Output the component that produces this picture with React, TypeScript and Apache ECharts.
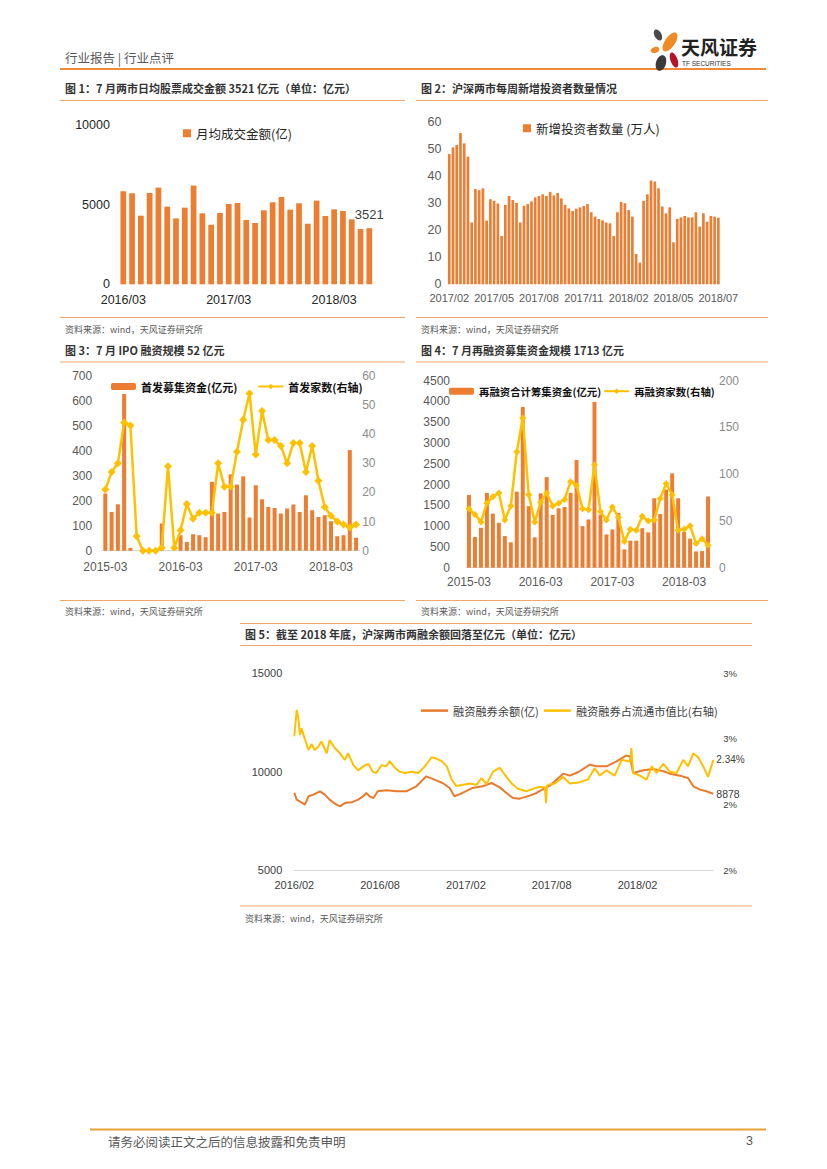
import React, { useEffect, useRef } from 'react';
import * as echarts from 'echarts';

const FONT = "'Liberation Sans', 'Noto Sans CJK SC', sans-serif";
const CJK = "'Noto Sans CJK SC', 'Liberation Sans', sans-serif";
const ORANGE = '#ED7D31';
const YELLOW = '#FFC000';
const RULE = '#F2A66A';

// ---------- Chart 1: monthly average turnover (2016/03 - 2018/07) ----------
const turnoverStart: [number, number] = [2016, 3];
const turnoverValues = [5840, 5714, 4307, 5735, 6071, 4874, 4139, 4811, 6197, 4454, 3739, 4475, 5042, 5105, 4034, 3845, 4643, 5147, 5483, 4685, 5084, 3803, 5252, 4286, 4706, 4601, 4076, 3466, 3521];

// ---------- Chart 2: weekly new investors (2017/02 - 2018/07) ----------
const investorTicks = ['2017/02', '2017/05', '2017/08', '2017/11', '2018/02', '2018/05', '2018/07'];
const newInvestors = [48.1, 50.5, 51.4, 55.8, 52, 47.1, 22.8, 35.2, 34.7, 35.4, 23.5, 31.4, 30.8, 29.8, 17.8, 29.3, 32.6, 31.1, 30, 22.8, 29, 29.6, 30.6, 32.1, 32.6, 33.2, 32.6, 34.1, 32.8, 33.7, 31.7, 29.3, 28, 27.1, 27.9, 28.4, 28.9, 29.6, 26.6, 25, 24.1, 23.6, 22.8, 22.5, 17.8, 26.6, 30.4, 29.9, 27.4, 25, 11.2, 8, 30.8, 33.2, 38.3, 37.9, 35.4, 28.7, 26.2, 28.4, 15.5, 24.1, 24.7, 25.2, 24.7, 24.7, 26.6, 21.3, 26.2, 23.1, 25.2, 25, 24.6];

// ---------- Chart 3 & 4: monthly (2015-03 - 2018-07) ----------
const monthlyStart: [number, number] = [2015, 3];
const ipoAmount = [229, 155, 186, 628, 11, 0, 0, 0, 0, 109, 0, 0, 62, 35, 66, 62, 54, 276, 149, 155, 306, 265, 298, 133, 262, 206, 175, 171, 149, 169, 185, 155, 222, 162, 135, 142, 118, 58, 62, 403, 52];
const ipoCount = [21, 27, 30, 44, 43, 5, 0, 0, 0, 1, 29, 1, 7, 16, 11, 13, 13, 13, 30, 22, 22, 34, 45, 54, 33, 48, 38, 38, 36, 30, 37, 37, 27, 36, 24, 15, 12, 10, 9, 8, 9];
const refiAmount = [1750, 740, 960, 1800, 1300, 1080, 760, 610, 1830, 3870, 1480, 730, 1790, 2180, 1270, 1430, 1460, 1800, 2590, 1000, 1160, 3990, 1270, 800, 920, 1320, 440, 650, 650, 950, 850, 1670, 1290, 1880, 2270, 1670, 860, 700, 390, 400, 1713];
const refiCount = [63, 57, 49, 69, 76, 80, 51, 66, 124, 160, 78, 49, 70, 80, 66, 69, 73, 92, 88, 63, 62, 110, 60, 51, 65, 54, 28, 41, 40, 55, 50, 51, 74, 90, 78, 40, 41, 45, 26, 31, 24];

// ---------- Chart 5: margin balance & ratio ----------
const marginDates = ['2016-02-01', '2016-02-06', '2016-02-16', '2016-02-23', '2016-03-01', '2016-03-11', '2016-03-25', '2016-04-05', '2016-04-15', '2016-04-26', '2016-05-07', '2016-05-17', '2016-06-01', '2016-06-15', '2016-06-25', '2016-07-02', '2016-07-09', '2016-07-17', '2016-07-26', '2016-08-14', '2016-09-05', '2016-09-26', '2016-10-17', '2016-11-08', '2016-11-29', '2016-12-12', '2016-12-27', '2017-01-07', '2017-01-24', '2017-02-15', '2017-03-06', '2017-03-25', '2017-04-12', '2017-04-26', '2017-05-10', '2017-05-24', '2017-06-15', '2017-06-29', '2017-07-27', '2017-08-25', '2017-09-09', '2017-09-27', '2017-10-21', '2017-11-05', '2017-11-26', '2017-12-17', '2018-01-07', '2018-01-15', '2018-01-22', '2018-02-13', '2018-03-04', '2018-03-25', '2018-04-09', '2018-04-30', '2018-05-17', '2018-05-28', '2018-06-12', '2018-06-26', '2018-07-10'];
const marginBalance = [8917, 8577, 8440, 8322, 8746, 8830, 9000, 8830, 8577, 8373, 8237, 8407, 8440, 8577, 8746, 8917, 8746, 8660, 9000, 9050, 9000, 9000, 9254, 9762, 9559, 9423, 9170, 8746, 8917, 9170, 9254, 9423, 9200, 8917, 8660, 8627, 8780, 8917, 9288, 9898, 9796, 9983, 10356, 10271, 10271, 10525, 10814, 10780, 9932, 10068, 10136, 10017, 9898, 9796, 9678, 9254, 9085, 9000, 8878];
const ratioDates = ['2016-02-01', '2016-02-06', '2016-02-09', '2016-02-13', '2016-02-16', '2016-02-23', '2016-03-01', '2016-03-07', '2016-03-14', '2016-03-21', '2016-03-28', '2016-04-09', '2016-04-15', '2016-04-26', '2016-05-07', '2016-05-17', '2016-05-24', '2016-06-05', '2016-06-15', '2016-06-26', '2016-07-06', '2016-07-16', '2016-07-23', '2016-08-04', '2016-08-14', '2016-08-21', '2016-09-02', '2016-09-12', '2016-09-23', '2016-10-07', '2016-10-21', '2016-11-05', '2016-11-19', '2016-11-29', '2016-12-10', '2016-12-21', '2017-01-01', '2017-01-11', '2017-01-25', '2017-02-09', '2017-02-23', '2017-03-04', '2017-03-14', '2017-03-28', '2017-04-12', '2017-04-26', '2017-05-07', '2017-05-20', '2017-06-08', '2017-06-22', '2017-07-06', '2017-07-17', '2017-07-19', '2017-07-21', '2017-07-24', '2017-08-08', '2017-08-25', '2017-09-09', '2017-09-30', '2017-10-17', '2017-11-01', '2017-11-12', '2017-11-26', '2017-12-13', '2017-12-28', '2018-01-11', '2018-01-16', '2018-01-18', '2018-01-22', '2018-02-06', '2018-02-20', '2018-03-01', '2018-03-11', '2018-03-25', '2018-04-09', '2018-04-23', '2018-05-07', '2018-05-17', '2018-05-28', '2018-06-08', '2018-06-19', '2018-06-29', '2018-07-10'];
const ratioValues = [2.52, 2.72, 2.67, 2.53, 2.58, 2.5, 2.415, 2.46, 2.415, 2.44, 2.48, 2.39, 2.49, 2.43, 2.39, 2.34, 2.39, 2.3, 2.26, 2.29, 2.31, 2.25, 2.24, 2.3, 2.29, 2.33, 2.28, 2.25, 2.24, 2.25, 2.24, 2.29, 2.36, 2.35, 2.33, 2.29, 2.19, 2.14, 2.15, 2.16, 2.15, 2.2, 2.155, 2.25, 2.28, 2.21, 2.16, 2.12, 2.1, 2.12, 2.135, 2.13, 2.01, 2.14, 2.15, 2.16, 2.21, 2.16, 2.17, 2.19, 2.275, 2.22, 2.26, 2.22, 2.34, 2.33, 2.33, 2.43, 2.24, 2.22, 2.19, 2.29, 2.24, 2.31, 2.25, 2.24, 2.34, 2.29, 2.39, 2.36, 2.29, 2.21, 2.34];

function monthLabels(start: [number, number], n: number, sep: string): string[] {
  const out: string[] = [];
  for (let i = 0; i < n; i++) {
    const t = start[0] * 12 + (start[1] - 1) + i;
    const y = Math.floor(t / 12);
    const m = (t % 12) + 1;
    out.push(`${y}${sep}${m < 10 ? '0' + m : m}`);
  }
  return out;
}
const monthOffset = (d: string) => {
  const [y, m, day] = d.split('-').map(Number);
  return (y - 2016) * 12 + (m - 2) + (day - 1) / 30;
};
const plain = (v: number) => String(v);

const txt = (x: number, y: number, text: string, size: number, color: string, weight: string = 'normal', align: string = 'left', family: string = CJK) => ({
  type: 'text', x, y, silent: true,
  style: { text, fontSize: size, fontFamily: family, fontWeight: weight, fill: color, align, verticalAlign: 'middle' },
});
const hline = (x1: number, x2: number, y: number, color: string, w: number) => ({
  type: 'line', silent: true, shape: { x1, y1: y, x2, y2: y }, style: { stroke: color, lineWidth: w },
});

function buildOption(): any {
  const months1 = monthLabels(turnoverStart, turnoverValues.length, '/');
  const weeks = newInvestors.map((_, i) => String(i));
  const months3 = monthLabels(monthlyStart, ipoAmount.length, '-');
  const marginData = marginDates.map((d, i) => [monthOffset(d), marginBalance[i]]);
  const ratioData = ratioDates.map((d, i) => [monthOffset(d), ratioValues[i]]);
  const xMax5 = monthOffset(marginDates[marginDates.length - 1]);

  const noSplit = { show: false };
  const noTick = { show: false };
  const noLine = { show: false };
  const lightAxis = { show: true, lineStyle: { color: '#D9D9D9', width: 1 } };

  const turnoverData = turnoverValues.map((v, i) =>
    i === turnoverValues.length - 1
      ? { value: v, label: { show: true, position: 'top', distance: 7, fontSize: 13, color: '#404040', fontFamily: FONT } }
      : v
  );

  const graphic: any[] = [
    // header
    txt(65, 57, '行业报告 | 行业点评', 12.5, '#595959'),
    hline(60, 766, 69, '#EE8B3A', 2),
    // logo petals
    { type: 'ellipse', x: 658, y: 35, rotation: 0.5, shape: { cx: 0, cy: 0, rx: 3.5, ry: 6 }, style: { fill: '#4A4A4A' }, silent: true },
    { type: 'ellipse', x: 670, y: 42, rotation: -0.6, shape: { cx: 0, cy: 0, rx: 5, ry: 11 }, style: { fill: '#F08A24' }, silent: true },
    { type: 'ellipse', x: 655, y: 50, rotation: 0.3, shape: { cx: 0, cy: 0, rx: 4.5, ry: 3 }, style: { fill: '#F08A24' }, silent: true },
    { type: 'ellipse', x: 674, y: 60, rotation: 0.35, shape: { cx: 0, cy: 0, rx: 3.5, ry: 8 }, style: { fill: '#B5122B' }, silent: true },
    { type: 'ellipse', x: 661, y: 63, rotation: -0.3, shape: { cx: 0, cy: 0, rx: 5, ry: 8 }, style: { fill: '#3A3A3A' }, silent: true },
    txt(681, 46, '天风证券', 19, '#222222', 'bold'),
    txt(682, 63, 'TF SECURITIES', 6.5, '#333333', 'normal', 'left', FONT),
    // figure titles
    txt(65, 88, '图 1：7 月两市日均股票成交金额 3521 亿元（单位：亿元）', 11, '#333333', 'bold'),
    txt(421, 88, '图 2：沪深两市每周新增投资者数量情况', 11, '#333333', 'bold'),
    hline(60, 405, 100.5, RULE, 1),
    hline(416, 768, 100.5, RULE, 1),
    hline(60, 405, 317.5, RULE, 1),
    hline(416, 768, 317.5, RULE, 1),
    txt(65, 329, '资料来源：wind，天风证券研究所', 9, '#595959'),
    txt(421, 329, '资料来源：wind，天风证券研究所', 9, '#595959'),
    txt(65, 350, '图 3：7 月 IPO 融资规模 52 亿元', 11, '#333333', 'bold'),
    txt(421, 350, '图 4：7 月再融资募集资金规模 1713 亿元', 11, '#333333', 'bold'),
    hline(60, 405, 362, RULE, 1),
    hline(416, 768, 362, RULE, 1),
    hline(60, 405, 600.5, RULE, 1),
    hline(416, 768, 600.5, RULE, 1),
    txt(65, 611, '资料来源：wind，天风证券研究所', 9, '#595959'),
    txt(421, 611, '资料来源：wind，天风证券研究所', 9, '#595959'),
    hline(240, 752, 623.5, RULE, 1),
    txt(245, 634, '图 5：截至 2018 年底，沪深两市两融余额回落至亿元（单位：亿元）', 11, '#333333', 'bold'),
    hline(240, 752, 645.5, RULE, 1),
    hline(240, 752, 906, RULE, 1),
    txt(245, 918, '资料来源：wind，天风证券研究所', 9, '#595959'),
    // footer
    hline(90, 766, 1129.5, '#E9A23B', 2),
    txt(108, 1141, '请务必阅读正文之后的信息披露和免责申明', 12.5, '#595959'),
    txt(753, 1141, '3', 12.5, '#595959', 'normal', 'right', FONT),
  ];

  return {
    animation: false,
    backgroundColor: '#ffffff',
    textStyle: { fontFamily: FONT },
    graphic,
    grid: [
      { left: 118.9, top: 125, width: 254.8, height: 159.3 },
      { left: 447.4, top: 121.7, width: 272.8, height: 162.6 },
      { left: 102.2, top: 376, width: 257, height: 174.7 },
      { left: 466, top: 380.7, width: 245, height: 187 },
      { left: 294.3, top: 673.3, width: 419, height: 196.7 },
    ],
    legend: [
      { data: ['月均成交金额(亿)'], left: 178, top: 122, icon: 'rect', itemWidth: 8, itemHeight: 8, itemGap: 5,
        textStyle: { fontSize: 12.5, color: '#262626', fontFamily: CJK } },
      { data: ['新增投资者数量 (万人)'], left: 518, top: 117, icon: 'rect', itemWidth: 8, itemHeight: 8,
        textStyle: { fontSize: 12.5, color: '#262626', fontFamily: CJK } },
      { data: ['首发募集资金(亿元)', '首发家数(右轴)'], left: 106, top: 376, itemWidth: 25, itemHeight: 7, itemGap: 20,
        textStyle: { fontSize: 11, fontWeight: 'bold', color: '#111111', fontFamily: CJK } },
      { data: ['再融资合计筹集资金(亿元)', '再融资家数(右轴)'], left: 444, top: 381, itemWidth: 25, itemHeight: 7, itemGap: 2,
        textStyle: { fontSize: 10.4, fontWeight: 'bold', color: '#111111', fontFamily: CJK } },
      { data: [{ name: '融资融券余额(亿)', icon: 'rect' }, { name: '融资融券占流通市值比(右轴)', icon: 'rect' }],
        left: 416, top: 700, itemWidth: 27, itemHeight: 2.5, itemGap: 5,
        textStyle: { fontSize: 11.2, color: '#404040', fontFamily: CJK } },
    ],
    xAxis: [
      { gridIndex: 0, type: 'category', data: months1, axisLine: noLine, axisTick: noTick, splitLine: noSplit,
        axisLabel: { interval: 11, margin: 9.5, fontSize: 12.5, color: '#262626' } },
      { gridIndex: 1, type: 'category', data: weeks, axisLine: noLine, axisTick: noTick, splitLine: noSplit,
        axisLabel: { interval: 11, margin: 8.5, fontSize: 11, color: '#595959', formatter: (_v: string, i: number) => investorTicks[i / 12] ?? '' } },
      { gridIndex: 2, type: 'category', data: months3, axisLine: lightAxis, axisTick: noTick, splitLine: noSplit,
        axisLabel: { interval: 11, margin: 10, fontSize: 12, color: '#595959' } },
      { gridIndex: 3, type: 'category', data: months3, axisLine: lightAxis, axisTick: noTick, splitLine: noSplit,
        axisLabel: { interval: 11, margin: 8, fontSize: 12, color: '#595959' } },
      { gridIndex: 4, type: 'value', min: 0, max: xMax5, interval: 6, axisLine: lightAxis, axisTick: noTick, splitLine: noSplit,
        axisLabel: { margin: 9, fontSize: 11, color: '#404040', showMaxLabel: false,
          formatter: (v: number) => { const m = 1 + Math.round(v); const y = 2016 + Math.floor(m / 12); const mo = (m % 12) + 1; return `${y}/${mo < 10 ? '0' + mo : mo}`; } } },
    ],
    yAxis: [
      { gridIndex: 0, type: 'value', min: 0, max: 10000, interval: 5000, axisLine: noLine, axisTick: noTick, splitLine: noSplit,
        axisLabel: { margin: 9, fontSize: 12.5, color: '#262626', formatter: plain } },
      { gridIndex: 1, type: 'value', min: 0, max: 60, interval: 10, axisLine: noLine, axisTick: noTick, splitLine: noSplit,
        axisLabel: { margin: 6, fontSize: 12.5, color: '#595959', formatter: plain } },
      { gridIndex: 2, type: 'value', min: 0, max: 700, interval: 100, axisLine: noLine, axisTick: noTick, splitLine: noSplit,
        axisLabel: { margin: 10, fontSize: 12, color: '#595959', formatter: plain } },
      { gridIndex: 2, type: 'value', position: 'right', min: 0, max: 60, interval: 10, axisLine: noLine, axisTick: noTick, splitLine: noSplit,
        axisLabel: { margin: 3, fontSize: 12, color: '#8C8C8C', formatter: plain } },
      { gridIndex: 3, type: 'value', min: 0, max: 4500, interval: 500, axisLine: noLine, axisTick: noTick, splitLine: noSplit,
        axisLabel: { margin: 16, fontSize: 12, color: '#595959', formatter: plain } },
      { gridIndex: 3, type: 'value', position: 'right', min: 0, max: 200, interval: 50, axisLine: noLine, axisTick: noTick, splitLine: noSplit,
        axisLabel: { margin: 8, fontSize: 12, color: '#8C8C8C', formatter: plain } },
      { gridIndex: 4, type: 'value', min: 5000, max: 15000, interval: 5000, axisLine: noLine, axisTick: noTick, splitLine: noSplit,
        axisLabel: { margin: 12, fontSize: 11, color: '#404040', formatter: plain } },
      { gridIndex: 4, type: 'value', position: 'right', min: 1.5, max: 3.0, interval: 0.5, axisLine: noLine, axisTick: noTick, splitLine: noSplit,
        axisLabel: { margin: 10, fontSize: 9.5, color: '#404040', formatter: (v: number) => Math.round(v) + '%' } },
    ],
    series: [
      { name: '月均成交金额(亿)', type: 'bar', xAxisIndex: 0, yAxisIndex: 0, data: turnoverData, barWidth: '65%', itemStyle: { color: ORANGE } },
      { name: '新增投资者数量 (万人)', type: 'bar', xAxisIndex: 1, yAxisIndex: 1, data: newInvestors, barWidth: '72%', itemStyle: { color: ORANGE } },
      { name: '首发募集资金(亿元)', type: 'bar', xAxisIndex: 2, yAxisIndex: 2, data: ipoAmount, barWidth: '64%', itemStyle: { color: ORANGE } },
      { name: '首发家数(右轴)', type: 'line', xAxisIndex: 2, yAxisIndex: 3, data: ipoCount, z: 3, symbol: 'diamond', symbolSize: 8, showAllSymbol: true,
        lineStyle: { color: YELLOW, width: 2.5 }, itemStyle: { color: YELLOW } },
      { name: '再融资合计筹集资金(亿元)', type: 'bar', xAxisIndex: 3, yAxisIndex: 4, data: refiAmount, barWidth: '66%', itemStyle: { color: ORANGE } },
      { name: '再融资家数(右轴)', type: 'line', xAxisIndex: 3, yAxisIndex: 5, data: refiCount, z: 3, symbol: 'diamond', symbolSize: 7, showAllSymbol: true,
        lineStyle: { color: YELLOW, width: 2.5 }, itemStyle: { color: YELLOW } },
      { name: '融资融券余额(亿)', type: 'line', xAxisIndex: 4, yAxisIndex: 6, data: marginData, symbol: 'none',
        lineStyle: { color: '#E97A2E', width: 2 }, itemStyle: { color: '#E97A2E' },
        endLabel: { show: true, distance: 3, fontSize: 10.5, color: '#404040', formatter: (p: any) => String(p.value[1]) } },
      { name: '融资融券占流通市值比(右轴)', type: 'line', xAxisIndex: 4, yAxisIndex: 7, data: ratioData, symbol: 'none',
        lineStyle: { color: YELLOW, width: 2 }, itemStyle: { color: YELLOW },
        endLabel: { show: true, distance: 3, fontSize: 10, color: '#404040', formatter: (p: any) => Number(p.value[1]).toFixed(2) + '%' } },
    ],
  };
}

export default function App() {
  const ref = useRef<HTMLDivElement>(null);
  useEffect(() => {
    if (!ref.current) return;
    const chart = echarts.init(ref.current, null, { renderer: 'svg' });
    chart.setOption(buildOption());
    return () => chart.dispose();
  }, []);
  return (
    <div
      ref={ref}
      style={{ position: 'absolute', left: 0, top: 0, width: 827, height: 1169, background: '#ffffff' }}
    />
  );
}
